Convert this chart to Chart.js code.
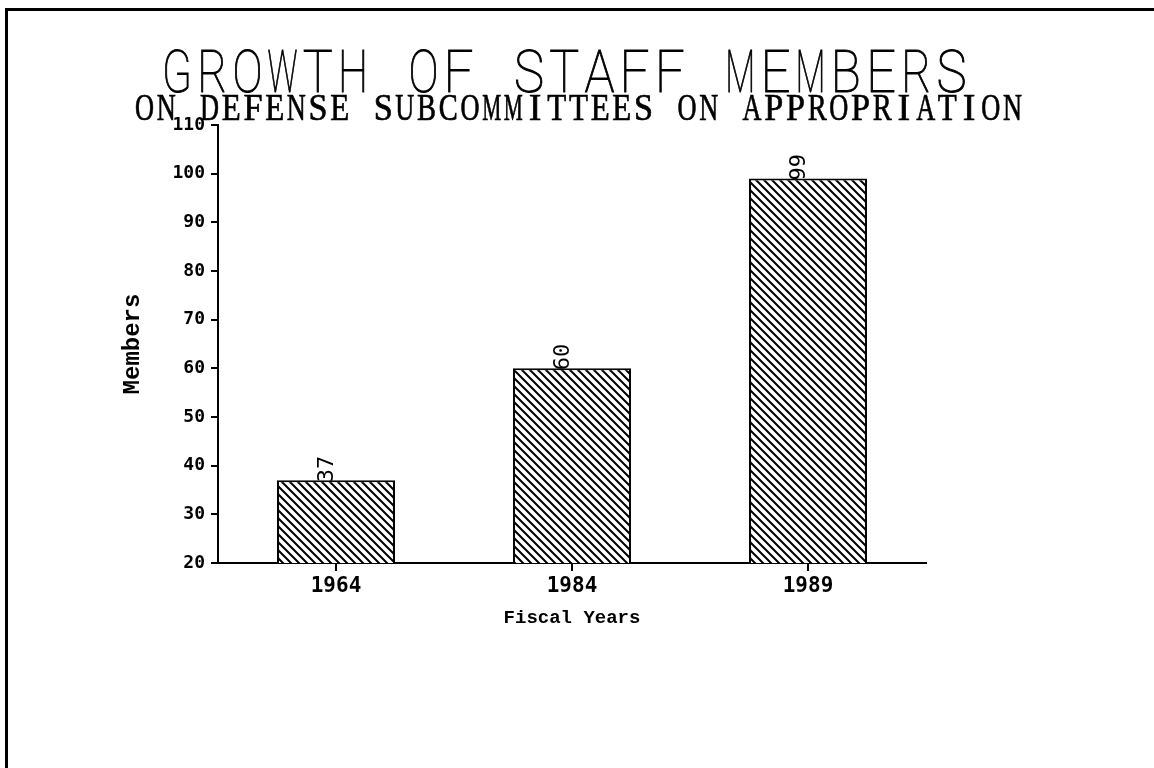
<!DOCTYPE html>
<html><head><meta charset="utf-8">
<script src="https://cdn.jsdelivr.net/npm/chart.js@4.4.0/dist/chart.umd.min.js"></script>
<style>html,body{margin:0;padding:0;background:#fff;overflow:hidden}</style>
</head><body>
<canvas id="c" width="1154" height="768"></canvas>
<script>
const categories = ['1964', '1984', '1989'];
const members = [37, 60, 99];
const yTicks = [20, 30, 40, 50, 60, 70, 80, 90, 100, 110];
const titleText = 'GROWTH OF STAFF MEMBERS';
const subtitleText = 'ON DEFENSE SUBCOMMITTEES ON APPROPRIATION';
const xTitle = 'Fiscal Years';
const yTitle = 'Members';

const canvas = document.getElementById('c');
const ctx0 = canvas.getContext('2d');

function makeHatch() {
  const s = 8;
  const c = document.createElement('canvas');
  c.width = s; c.height = s;
  const g = c.getContext('2d');
  g.fillStyle = '#fff'; g.fillRect(0, 0, s, s);
  g.strokeStyle = '#000'; g.lineWidth = 2;
  g.beginPath();
  g.moveTo(-2, -2); g.lineTo(s + 2, s + 2);
  g.moveTo(-2, s - 2); g.lineTo(2, s + 2);
  g.moveTo(s - 2, -2); g.lineTo(s + 2, 2);
  g.stroke();
  return ctx0.createPattern(c, 'repeat');
}

const framePlugin = {
  id: 'frame',
  beforeDraw(chart) {
    const ctx = chart.ctx;
    ctx.save();
    ctx.fillStyle = '#fff';
    ctx.fillRect(0, 0, chart.width, chart.height);
    ctx.fillStyle = '#000';
    ctx.fillRect(5, 8, chart.width - 5, 3);
    ctx.fillRect(5, 8, 3, chart.height - 8);
    ctx.restore();
  }
};

// typewriter-style text: one glyph per fixed-width cell
function drawMono(ctx, text, font, left, baseline, advance, maxGlyph, strokeW) {
  ctx.save();
  ctx.font = font;
  ctx.fillStyle = '#000';
  ctx.strokeStyle = '#000';
  ctx.textAlign = 'center';
  ctx.textBaseline = 'alphabetic';
  for (let i = 0; i < text.length; i++) {
    const ch = text[i];
    if (ch === ' ') continue;
    const w = ctx.measureText(ch).width;
    const s = Math.min(1, maxGlyph / Math.max(w, 1));
    ctx.save();
    ctx.translate(left + advance / 2 + advance * i, baseline);
    ctx.scale(s, 1);
    ctx.fillText(ch, 0, 0);
    if (strokeW) { ctx.lineWidth = strokeW; ctx.strokeText(ch, 0, 0); }
    ctx.restore();
  }
  ctx.restore();
}

const titlePlugin = {
  id: 'titles',
  afterDraw(chart) {
    const ctx = chart.ctx;
    drawMono(ctx, titleText, '100 59px Roboto', 159.4, 92, 35.2, 30, 1.0);
    drawMono(ctx, subtitleText, '38px "Liberation Serif"', 133.6, 120, 21.7, 19, 0.7);
  }
};

const valueLabelPlugin = {
  id: 'valueLabels',
  afterDatasetsDraw(chart) {
    const ctx = chart.ctx;
    const meta = chart.getDatasetMeta(0);
    meta.data.forEach((bar, i) => {
      ctx.save();
      ctx.translate(bar.x - 9, bar.y + 2);
      ctx.rotate(-Math.PI / 2);
      ctx.textAlign = 'left';
      ctx.textBaseline = 'middle';
      ctx.font = '22px "DejaVu Sans Mono"';
      ctx.fillStyle = '#000';
      ctx.fillText(String(members[i]), 0, 0);
      ctx.restore();
    });
  }
};

new Chart(canvas, {
  type: 'bar',
  data: {
    labels: categories,
    datasets: [{
      data: members,
      backgroundColor: makeHatch(),
      borderColor: '#000',
      borderWidth: 2,
      borderSkipped: false,
      barPercentage: 0.5,
      categoryPercentage: 1.0
    }]
  },
  options: {
    responsive: false,
    animation: false,
    devicePixelRatio: 1,
    layout: { padding: { top: 125, right: 228, bottom: 0, left: 0 } },
    plugins: { legend: { display: false }, tooltip: { enabled: false }, title: { display: false } },
    scales: {
      x: {
        grid: { display: true, drawOnChartArea: false, offset: false, tickLength: 8, color: '#000', lineWidth: 2 },
        border: { display: true, color: '#000', width: 2 },
        ticks: { color: '#000', font: { family: 'DejaVu Sans Mono', size: 21, weight: 'bold' }, padding: 3 },
        title: { display: true, text: xTitle, color: '#000', font: { family: 'Liberation Mono', size: 19, weight: 'bold' }, padding: { top: 0, bottom: 138 } },
        afterFit(scale) { scale.height = 205; }
      },
      y: {
        min: 20, max: 110,
        afterBuildTicks(scale) { scale.ticks = yTicks.map(v => ({ value: v })); },
        grid: { display: true, drawOnChartArea: false, tickLength: 7, color: '#000', lineWidth: 2 },
        border: { display: true, color: '#000', width: 2 },
        ticks: { color: '#000', font: { family: 'DejaVu Sans Mono', size: 18, weight: 'bold' }, padding: 6 },
        title: { display: true, text: yTitle, color: '#000', font: { family: 'Liberation Mono', size: 24, weight: 'bold' }, padding: { top: 119, bottom: 0 } },
        afterFit(scale) { scale.width = 218; }
      }
    }
  },
  plugins: [framePlugin, titlePlugin, valueLabelPlugin]
});
</script>
</body></html>
